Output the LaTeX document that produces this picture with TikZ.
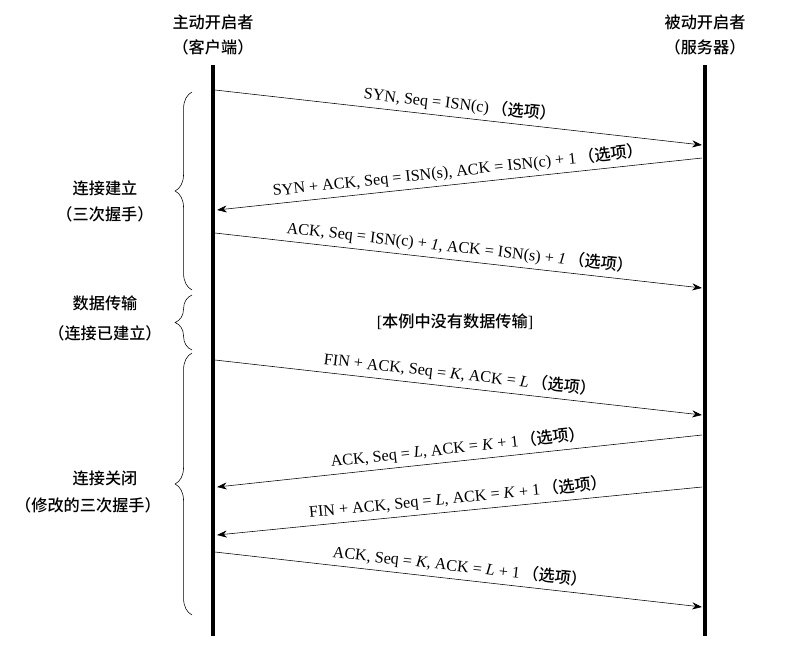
\documentclass[tikz,border=0pt]{standalone}
\usepackage{fontspec}
\setmainfont{Liberation Serif}
\newfontfamily\cjk{Noto Sans CJK SC Medium}
\usetikzlibrary{arrows.meta,decorations.pathreplacing}
\begin{document}
\begin{tikzpicture}[
  x=0.025cm, y=-0.025cm,
  every node/.style={font=\fontsize{11.5}{13}\selectfont, inner sep=1pt},
  life/.style={line width=2.6pt},
  msg/.style={thin, -{Stealth[length=7pt,width=5pt]}},
  lbl/.style={sloped, above=2pt},
  brc/.style={decorate, decoration={brace, amplitude=12pt}, thin}
]
\useasboundingbox (0,0) rectangle (796,647);
% participants
\node (cli) at (213,22) {\cjk 主动开启者};
\node (clib) at (213,47) {\cjk （客户端）};
\node (srv) at (705,22) {\cjk 被动开启者};
\node (srvb) at (705,47) {\cjk （服务器）};
\draw[life] (213,65) -- (213,636);
\draw[life] (705,65) -- (705,636);
% connection setup
\coordinate (a1) at (215,90);  \coordinate (b1) at (702,145);
\coordinate (b2) at (702,158); \coordinate (a2) at (217,210);
\coordinate (a3) at (215,233); \coordinate (b3) at (702,288);
\draw[msg] (a1) -- node[lbl, pos=.5] {SYN, Seq = ISN(c)\,{\cjk （选项）}} (b1);
\draw[msg] (b2) -- node[lbl, pos=.5] {SYN + ACK, Seq = ISN(s), ACK = ISN(c) + 1\,{\cjk （选项）}} (a2);
\draw[msg] (a3) -- node[lbl, pos=.5] {ACK, Seq = ISN(c) + \textit{1}, ACK = ISN(s) + \textit{1}\,{\cjk （选项）}} (b3);
% data
\node (data) at (455,322) {[{\cjk 本例中没有数据传输}]};
% teardown
\coordinate (a4) at (215,360); \coordinate (b4) at (702,415);
\coordinate (b5) at (702,435); \coordinate (a5) at (217,487);
\coordinate (b6) at (702,487); \coordinate (a6) at (217,535);
\coordinate (a7) at (215,552); \coordinate (b7) at (702,607);
\draw[msg] (a4) -- node[lbl, pos=.5] {FIN + ACK, Seq = \textit{K}, ACK = \textit{L}\,{\cjk （选项）}} (b4);
\draw[msg] (b5) -- node[lbl, pos=.5] {ACK, Seq = \textit{L}, ACK = \textit{K} + 1\,{\cjk （选项）}} (a5);
\draw[msg] (b6) -- node[lbl, pos=.5] {FIN + ACK, Seq = \textit{L}, ACK = \textit{K} + 1\,{\cjk （选项）}} (a6);
\draw[msg] (a7) -- node[lbl, pos=.5] {ACK, Seq = \textit{K}, ACK = \textit{L} + 1\,{\cjk （选项）}} (b7);
% phases
\draw[brc] (192,290) -- (192,92);
\draw[brc] (192,350) -- (192,295);
\draw[brc] (192,615) -- (192,353);
\node (p1) at (105,188) {\cjk 连接建立};
\node (p1b) at (105,214) {\cjk （三次握手）};
\node (p2) at (105,303) {\cjk 数据传输};
\node (p2b) at (105,333) {\cjk （连接已建立）};
\node (p3) at (105,478) {\cjk 连接关闭};
\node (p3b) at (88,505) {\cjk （修改的三次握手）};
\end{tikzpicture}
\end{document}
